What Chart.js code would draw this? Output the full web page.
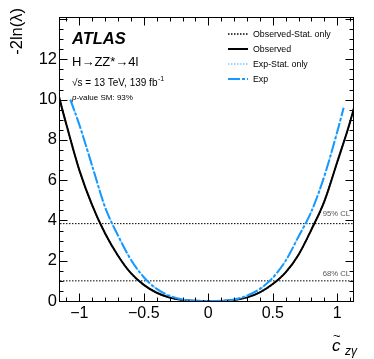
<!DOCTYPE html>
<html>
<head>
<meta charset="utf-8">
<script src="https://cdn.jsdelivr.net/npm/chart.js@4.4.1/dist/chart.umd.min.js"></script>
<style>
  html, body { margin:0; padding:0; background:#fff; }
  canvas { display:block; }
</style>
</head>
<body>
<canvas id="scanChart" width="374" height="359"></canvas>
<script>
/* ========= Datos ========= */
const obsX     = [-1.2, -1.15, -1.1, -1.0, -0.9, -0.8, -0.7, -0.6, -0.5, -0.4, -0.3, -0.2, -0.1, 0, 0.1, 0.2, 0.3, 0.4, 0.5, 0.6, 0.7, 0.8, 0.9, 1.0, 1.1, 1.2];
const obsY     = [11.3, 9.95, 8.75, 6.5, 4.75, 3.35, 2.25, 1.38, 0.80, 0.41, 0.17, 0.05, 0.01, 0, 0.005, 0.05, 0.18, 0.43, 0.84, 1.42, 2.3, 3.55, 4.95, 6.9, 8.9, 11.3];
const obsStatY = [11.3, 9.95, 8.75, 6.5, 4.75, 3.35, 2.25, 1.38, 0.80, 0.41, 0.17, 0.05, 0.01, 0, 0.005, 0.05, 0.18, 0.43, 0.84, 1.42, 2.3, 3.55, 4.95, 6.9, 8.9, 11.3];
const expX     = [-1.07, -1.0, -0.9, -0.8, -0.7, -0.6, -0.5, -0.4, -0.3, -0.2, -0.1, 0, 0.1, 0.2, 0.3, 0.4, 0.5, 0.6, 0.7, 0.8, 0.9, 1.0, 1.05];
const expY     = [10.0, 8.75, 6.7, 4.65, 3.25, 2.05, 1.18, 0.60, 0.26, 0.075, 0.01, 0, 0.01, 0.075, 0.26, 0.60, 1.15, 2.0, 3.2, 4.45, 6.2, 8.4, 9.6];
const expStatY = [10.0, 8.75, 6.7, 4.65, 3.25, 2.05, 1.18, 0.60, 0.26, 0.075, 0.01, 0, 0.01, 0.075, 0.26, 0.60, 1.15, 2.0, 3.2, 4.45, 6.2, 8.4, 9.6];

const xMin = -1.15, xMax = 1.13, yMin = 0, yMax = 14.1;
const xTicks = [-1, -0.5, 0, 0.5, 1];
const yTicks = [0, 2, 4, 6, 8, 10, 12];
const clLevels = [1, 3.84];
const clLabels = ['68% CL', '95% CL'];
const legendLabels = ['Observed-Stat. only', 'Observed', 'Exp-Stat. only', 'Exp'];

const FONT = '"Liberation Sans", Arial, sans-serif';
const BLUE = '#1598ff';
const LIGHTBLUE = '#74ccff';

/* ========= Datasets ========= */
const toPts = (xs, ys) => xs.map((x, i) => ({ x, y: ys[i] }));
const curve = (label, xs, ys, color, width, dash, order) => ({
  label, data: toPts(xs, ys), borderColor: color, borderWidth: width, borderDash: dash,
  pointRadius: 0, fill: false, cubicInterpolationMode: 'monotone', order
});

const datasets = [
  curve(legendLabels[0], obsX, obsStatY, '#000', 1.5, [1.5, 1.5], 3),
  curve(legendLabels[1], obsX, obsY,     '#000', 2,   [],         2),
  curve(legendLabels[2], expX, expStatY, LIGHTBLUE, 1.5, [1.5, 1.5], 1),
  curve(legendLabels[3], expX, expY,     BLUE, 2,   [12, 2, 3, 2], 0),
  ...clLevels.map(lvl => ({
    label: '', data: [{ x: xMin, y: lvl }, { x: xMax, y: lvl }],
    borderColor: '#000', borderWidth: 1, borderDash: [1.5, 1.5], pointRadius: 0, order: 5
  }))
];

const fmtNum = v => (v < 0 ? '\u2212' + Math.abs(v) : String(v));

/* ========= Marco y ticks estilo ROOT ========= */
const rootFrame = {
  id: 'rootFrame',
  afterDatasetsDraw(chart) {
    const { ctx, chartArea: a, scales: { x, y } } = chart;
    ctx.save();
    ctx.strokeStyle = '#000';
    ctx.lineWidth = 1;
    ctx.setLineDash([]);
    const L = Math.round(a.left) - 0.5, R = Math.round(a.right) - 0.5;
    const T = Math.round(a.top) + 0.5, B = Math.round(a.bottom) + 0.5;
    ctx.strokeRect(L, T, R - L, B - T);
    ctx.beginPath();
    for (let i = -11; i <= 11; i++) {
      const v = i / 10;
      if (v < xMin || v > xMax) continue;
      const px = Math.round(x.getPixelForValue(v)) + 0.5;
      const len = i % 5 === 0 ? 8 : 4;
      ctx.moveTo(px, B); ctx.lineTo(px, B - len);
      ctx.moveTo(px, T); ctx.lineTo(px, T + len);
    }
    for (let i = 1; i <= 28; i++) {
      const v = i / 2;
      if (v > yMax) continue;
      const py = Math.round(y.getPixelForValue(v)) + 0.5;
      const len = i % 4 === 0 ? 8 : 4;
      ctx.moveTo(L, py); ctx.lineTo(L + len, py);
      ctx.moveTo(R, py); ctx.lineTo(R - len, py);
    }
    ctx.stroke();
    ctx.restore();
  }
};

/* ========= Textos ========= */
const rootText = {
  id: 'rootText',
  afterDraw(chart) {
    const { ctx, scales: { y } } = chart;
    ctx.save();
    ctx.fillStyle = '#000';
    ctx.textBaseline = 'alphabetic';
    ctx.textAlign = 'left';

    ctx.font = `italic bold 16.5px ${FONT}`;
    ctx.fillText('ATLAS', 72, 44);

    ctx.font = `13px ${FONT}`;
    ctx.fillText('H\u2192ZZ*\u21924l', 72, 66);

    ctx.font = `10px ${FONT}`;
    const s1 = '\u221As = 13 TeV, 139 fb';
    ctx.fillText(s1, 72, 86);
    const w1 = ctx.measureText(s1).width;
    ctx.font = `7px ${FONT}`;
    ctx.fillText('-1', 72 + w1 + 0.5, 81);

    ctx.font = `italic 8px ${FONT}`;
    ctx.fillText('p', 72, 100);
    const wp = ctx.measureText('p').width;
    ctx.font = `8px ${FONT}`;
    ctx.fillText('-value SM: 93%', 72 + wp, 100);

    // etiquetas CL
    ctx.font = `7.7px ${FONT}`;
    ctx.fillStyle = '#555';
    ctx.textAlign = 'right';
    const offs = [5, 8];
    clLevels.forEach((lvl, i) => {
      ctx.fillText(clLabels[i], 350, y.getPixelForValue(lvl) - offs[i]);
    });

    // título eje y
    ctx.fillStyle = '#000';
    ctx.save();
    ctx.translate(22, 8);
    ctx.rotate(-Math.PI / 2);
    ctx.textAlign = 'right';
    ctx.font = `16.5px ${FONT}`;
    ctx.fillText('-2ln(\u03BB)', 0, 0);
    ctx.restore();

    // título eje x: c~ sub zγ
    ctx.textAlign = 'left';
    ctx.font = `italic 17px ${FONT}`;
    ctx.fillText('c', 332, 351);
    ctx.font = `13px ${FONT}`;
    ctx.fillText('~', 333, 340);
    ctx.font = `italic 12px ${FONT}`;
    ctx.fillText('z\u03B3', 345, 355);
    ctx.restore();
  }
};

/* ========= Leyenda ========= */
const rootLegend = {
  id: 'rootLegend',
  afterDraw(chart) {
    const { ctx } = chart;
    ctx.save();
    ctx.font = `8.8px ${FONT}`;
    ctx.textAlign = 'left';
    ctx.textBaseline = 'middle';
    legendLabels.forEach((lab, i) => {
      const ds = chart.data.datasets[i];
      const yy = 34 + i * 15;
      ctx.strokeStyle = ds.borderColor;
      ctx.lineWidth = ds.borderWidth;
      ctx.setLineDash(ds.borderDash || []);
      ctx.beginPath();
      ctx.moveTo(228, yy); ctx.lineTo(248, yy);
      ctx.stroke();
      ctx.fillStyle = '#000';
      ctx.fillText(lab, 253, yy + 0.5);
    });
    ctx.restore();
  }
};

/* ========= Chart ========= */
const ctx = document.getElementById('scanChart').getContext('2d');
new Chart(ctx, {
  type: 'line',
  data: { datasets },
  options: {
    responsive: false,
    animation: false,
    devicePixelRatio: 1,
    layout: { padding: { top: 17, right: 20, left: 0, bottom: 0 } },
    plugins: { legend: { display: false }, tooltip: { enabled: false } },
    scales: {
      x: {
        type: 'linear', min: xMin, max: xMax,
        grid: { display: false, drawTicks: false },
        border: { display: false },
        afterBuildTicks: s => { s.ticks = xTicks.map(v => ({ value: v })); },
        afterFit: s => { s.height = 58; },
        ticks: { font: { family: FONT, size: 16 }, color: '#000', padding: 3, maxRotation: 0, autoSkip: false, callback: fmtNum }
      },
      y: {
        type: 'linear', min: yMin, max: yMax,
        grid: { display: false, drawTicks: false },
        border: { display: false },
        afterBuildTicks: s => { s.ticks = yTicks.map(v => ({ value: v })); },
        afterFit: s => { s.width = 60; },
        ticks: { font: { family: FONT, size: 16.5 }, color: '#000', padding: 3, autoSkip: false, callback: fmtNum }
      }
    }
  },
  plugins: [rootFrame, rootText, rootLegend]
});
</script>
</body>
</html>
